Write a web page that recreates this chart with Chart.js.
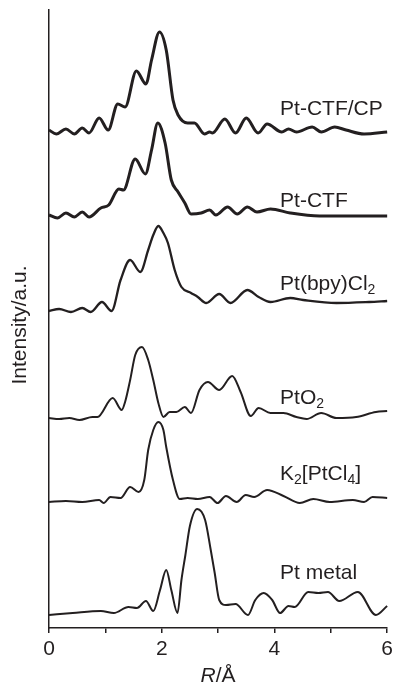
<!DOCTYPE html>
<html>
<head>
<meta charset="utf-8">
<script src="https://cdn.jsdelivr.net/npm/chart.js@4.4.0/dist/chart.umd.min.js"></script>
<style>
  html, body { margin: 0; padding: 0; background: #fff; }
  canvas { display: block; }
</style>
</head>
<body>
<canvas id="exafsChart" width="397" height="684"></canvas>
<script>
// Pt-CTF/CP
const ctfcpR = [0, 0.13, 0.30, 0.45, 0.59, 0.71, 0.89, 1.05, 1.22, 1.35, 1.55, 1.72, 1.82, 1.96, 2.08, 2.20, 2.29, 2.46, 2.58, 2.76, 2.85, 2.90, 3.12, 3.31, 3.50, 3.71, 3.87, 4.13, 4.25, 4.39, 4.67, 4.83, 5.07, 5.27, 5.59, 6.0];
const ctfcpI = [498, 494, 499, 494, 500, 495, 510, 498, 524, 521, 557, 544, 568, 596, 578, 528, 513, 505, 505, 494, 496, 495, 509, 495, 510, 495, 504, 496, 499, 496, 501, 496, 501, 498, 494, 496];

// Pt-CTF
const ctfR = [0, 0.15, 0.30, 0.45, 0.59, 0.71, 0.92, 1.06, 1.24, 1.32, 1.53, 1.71, 1.82, 1.93, 2.06, 2.17, 2.29, 2.41, 2.52, 2.70, 2.85, 2.96, 3.17, 3.34, 3.52, 3.69, 3.93, 4.28, 4.80, 5.39, 6.0];
const ctfI = [413, 410, 415, 411, 416, 411, 420, 423, 439, 438, 469, 454, 478, 505, 485, 448, 436, 425, 414, 415, 418, 413, 421, 414, 421, 416, 419, 415, 412, 412, 412];

// Pt(bpy)Cl2
const bpyR = [0, 0.18, 0.39, 0.59, 0.74, 0.94, 1.11, 1.27, 1.44, 1.62, 1.76, 1.85, 1.94, 2.03, 2.11, 2.23, 2.35, 2.52, 2.64, 2.79, 3.02, 3.22, 3.52, 3.72, 3.93, 4.28, 4.51, 5.10, 5.68, 6.0];
const bpyI = [317, 319, 316, 320, 316, 326, 317, 348, 368, 356, 378, 393, 402, 395, 385, 358, 341, 335, 331, 325, 334, 325, 338, 331, 326, 330, 328, 325, 326, 327];

// PtO2
const pto2R = [0, 0.18, 0.36, 0.54, 0.77, 0.86, 1.13, 1.29, 1.35, 1.44, 1.53, 1.65, 1.76, 1.85, 1.94, 2.03, 2.14, 2.26, 2.41, 2.52, 2.67, 2.82, 3.02, 3.25, 3.40, 3.58, 3.72, 3.93, 4.16, 4.39, 4.57, 4.83, 5.10, 5.45, 5.80, 6.0];
const pto2I = [210, 209, 210, 208, 211, 211, 230, 218, 226, 248, 273, 281, 268, 248, 225, 211, 216, 216, 221, 215, 238, 246, 238, 252, 236, 212, 220, 215, 215, 211, 209, 215, 210, 211, 216, 217];

// K2[PtCl4]
const kptR = [0, 0.30, 0.59, 0.89, 0.97, 1.09, 1.27, 1.44, 1.59, 1.69, 1.76, 1.85, 1.94, 2.03, 2.08, 2.20, 2.32, 2.46, 2.64, 2.85, 2.99, 3.14, 3.33, 3.49, 3.64, 3.87, 4.16, 4.45, 4.69, 4.98, 5.39, 5.59, 5.74, 6.0];
const kptI = [126, 127, 126, 128, 125, 131, 130, 141, 136, 148, 178, 198, 206, 198, 181, 148, 129, 130, 129, 131, 125, 132, 126, 133, 131, 138, 132, 125, 129, 126, 128, 126, 131, 130];

// Pt metal
const ptR = [0, 0.42, 0.92, 1.15, 1.41, 1.56, 1.72, 1.85, 1.97, 2.08, 2.17, 2.28, 2.35, 2.42, 2.50, 2.63, 2.77, 2.87, 2.94, 3.02, 3.14, 3.31, 3.53, 3.66, 3.81, 3.96, 4.10, 4.25, 4.36, 4.60, 4.78, 4.95, 5.15, 5.48, 5.80, 6.0];
const ptI = [13, 15, 17, 15, 21, 20, 27, 17, 38, 58, 38, 15, 48, 73, 102, 119, 108, 78, 55, 28, 23, 24, 13, 28, 35, 28, 15, 22, 21, 36, 35, 36, 27, 36, 13, 22];

// curve labels: text parts, [text, isSubscript]
const curveLabels = [
  [["Pt-CTF/CP", false]],
  [["Pt-CTF", false]],
  [["Pt(bpy)Cl", false], ["2", true]],
  [["PtO", false], ["2", true]],
  [["K", false], ["2", true], ["[PtCl", false], ["4", true], ["]", false]],
  [["Pt metal", false]],
];
const labelR = [4.1, 4.1, 4.1, 4.1, 4.1, 4.1];
const labelI = [513, 421, 338, 224, 148, 49];

const xTicks = [0, 2, 4, 6];

const INK = "#231f20";
const FONT = '"Liberation Sans", Arial, Helvetica, sans-serif';

function toPoints(rs, is) {
  return rs.map((r, i) => ({ x: r, y: is[i] }));
}

function curve(rs, is, width) {
  return {
    data: toPoints(rs, is),
    borderColor: INK,
    borderWidth: width,
    pointRadius: 0,
    cubicInterpolationMode: "monotone",
    fill: false,
    clip: false,
  };
}

// draws curve names and both axis titles
const labelPlugin = {
  id: "curveLabels",
  afterDraw(chart) {
    const { ctx, scales } = chart;
    const x = scales.x;
    const y = scales.y;
    ctx.save();
    ctx.fillStyle = INK;
    ctx.textBaseline = "alphabetic";
    ctx.textAlign = "left";
    curveLabels.forEach((parts, i) => {
      let px = x.getPixelForValue(labelR[i]);
      const py = y.getPixelForValue(labelI[i]);
      parts.forEach(([txt, sub]) => {
        ctx.font = (sub ? "14px " : "21px ") + FONT;
        ctx.fillText(txt, px, py + (sub ? 4 : 0));
        px += ctx.measureText(txt).width;
      });
    });

    // x-axis title, italic R
    ctx.font = "italic 21px " + FONT;
    const wR = ctx.measureText("R").width;
    ctx.font = "21px " + FONT;
    const wRest = ctx.measureText("/Å").width;
    const cx = (chart.chartArea.left + chart.chartArea.right) / 2;
    const tx = cx - (wR + wRest) / 2;
    ctx.font = "italic 21px " + FONT;
    ctx.fillText("R", tx, 682);
    ctx.font = "21px " + FONT;
    ctx.fillText("/Å", tx + wR, 682);

    // y-axis title
    ctx.translate(20, 325);
    ctx.rotate(-Math.PI / 2);
    ctx.textAlign = "center";
    ctx.textBaseline = "middle";
    ctx.fillText("Intensity/a.u.", 0, 0);
    ctx.restore();
  },
};

const ctx = document.getElementById("exafsChart").getContext("2d");

const chart = new Chart(ctx, {
  type: "line",
  data: {
    datasets: [
      curve(ctfcpR, ctfcpI, 3),
      curve(ctfR, ctfI, 3),
      curve(bpyR, bpyI, 2.3),
      curve(pto2R, pto2I, 2),
      curve(kptR, kptI, 2),
      curve(ptR, ptI, 2),
    ],
  },
  options: {
    responsive: false,
    animation: false,
    layout: {
      padding: { top: 10, right: 5, left: 0, bottom: 0 },
    },
    plugins: {
      legend: { display: false },
      tooltip: { enabled: false },
    },
    scales: {
      x: {
        type: "linear",
        min: 0,
        max: 6,
        afterFit: (scale) => { scale.height = 56; },
        border: { display: true, color: INK, width: 1.5 },
        grid: {
          display: true,
          drawOnChartArea: false,
          drawTicks: true,
          tickLength: 5,
          color: INK,
          lineWidth: 1.5,
        },
        ticks: {
          stepSize: 1,
          maxRotation: 0,
          autoSkip: false,
          padding: 4,
          color: INK,
          font: { family: FONT, size: 21 },
          callback: (value) => (xTicks.includes(value) ? String(value) : ""),
        },
      },
      y: {
        type: "linear",
        min: 0,
        max: 618,
        afterFit: (scale) => { scale.width = 49; },
        border: { display: true, color: INK, width: 1.5 },
        grid: { display: false },
        ticks: { display: false },
        title: { display: false },
      },
    },
  },
  plugins: [labelPlugin],
});
</script>
</body>
</html>
